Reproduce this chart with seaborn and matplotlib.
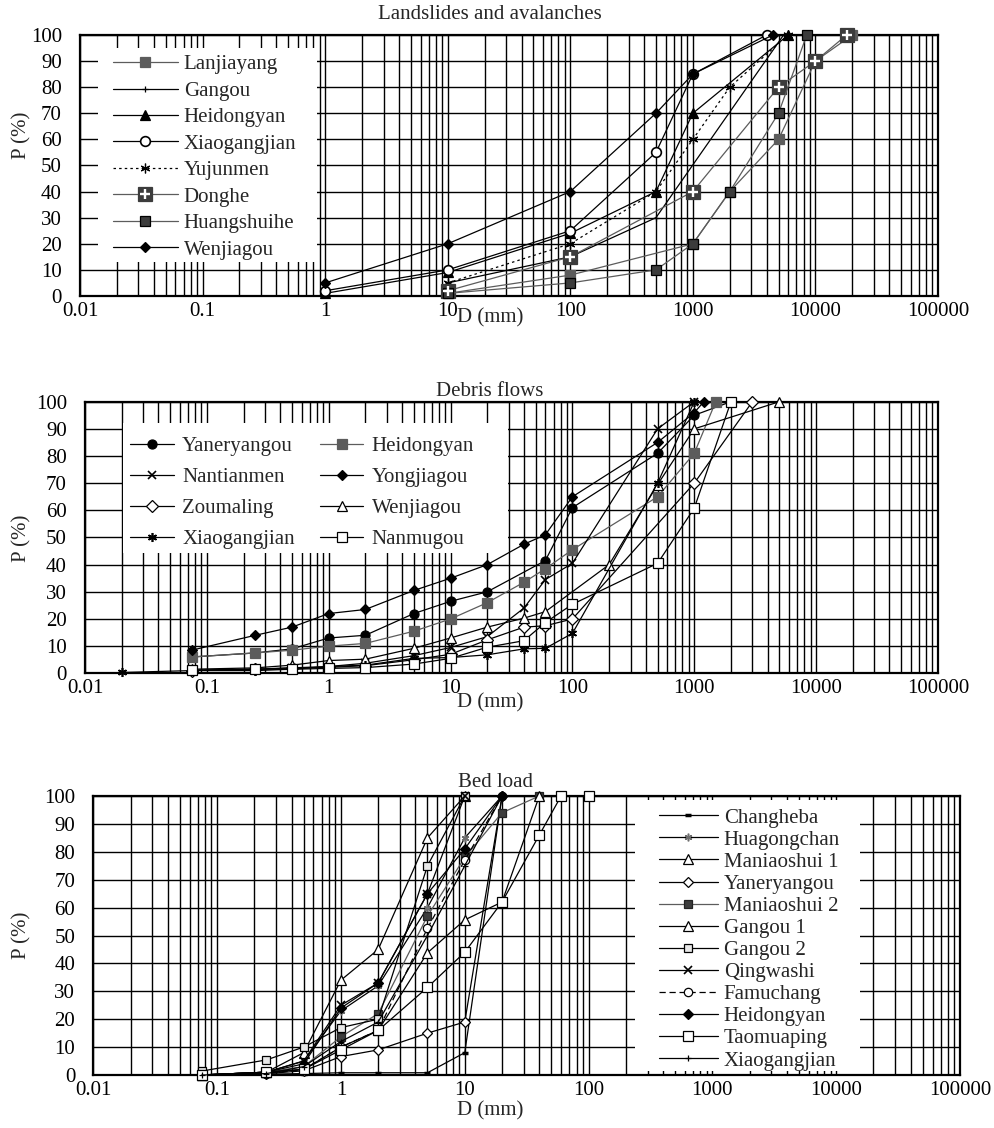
import seaborn as sns
import matplotlib.pyplot as plt
from matplotlib.patches import Rectangle
from matplotlib.ticker import FixedLocator, FixedFormatter, LogLocator, NullFormatter
from matplotlib.legend_handler import HandlerTuple

sns.set_theme(style='ticks')
plt.rcParams['font.family'] = ['Liberation Serif', 'DejaVu Serif']

# axis ticks shared by the three panels
x_ticks = [0.01, 0.1, 1, 10, 100, 1000, 10000, 100000]
x_tick_labels = ['0.01', '0.1', '1', '10', '100', '1000', '10000', '100000']
y_ticks = [0, 10, 20, 30, 40, 50, 60, 70, 80, 90, 100]

# --- Landslides and avalanches (D in mm, P in %)
ls_lanjiayang_d = [10, 100, 1000, 2000, 5000, 10000, 20000]
ls_lanjiayang_p = [1, 8, 20, 40, 60, 90, 100]
ls_gangou_d = [10, 100, 500, 5500]
ls_gangou_p = [5, 15, 30, 100]
ls_heidongyan_d = [1, 10, 100, 500, 1000, 6000]
ls_heidongyan_p = [1, 9, 24, 40, 70, 100]
ls_xiaogangjian_d = [1, 10, 100, 500, 1000, 4000]
ls_xiaogangjian_p = [2, 10, 25, 55, 85, 100]
ls_yujunmen_d = [10, 100, 500, 1000, 2000, 6000]
ls_yujunmen_p = [5, 20, 40, 60, 80, 100]
ls_donghe_d = [10, 100, 1000, 5000, 10000, 18000]
ls_donghe_p = [2, 15, 40, 80, 90, 100]
ls_huangshuihe_d = [10, 100, 500, 1000, 2000, 5000, 8500]
ls_huangshuihe_p = [1, 5, 10, 20, 40, 70, 100]
ls_wenjiagou_d = [1, 10, 100, 500, 1000, 4500]
ls_wenjiagou_p = [5, 20, 40, 70, 85, 100]

# --- Debris flows
df_yaneryangou_d = [0.075, 0.25, 0.5, 1, 2, 5, 10, 20, 60, 100, 500, 1000, 2000]
df_yaneryangou_p = [6, 7.5, 9, 13, 14, 22, 26.5, 30, 41.5, 61, 81, 95, 100]
df_heidongyan_d = [0.075, 0.25, 0.5, 1, 2, 5, 10, 20, 40, 60, 100, 500, 1000, 1500]
df_heidongyan_p = [6, 7.5, 8.5, 10, 11, 15.5, 20, 26, 33.5, 38.5, 45.5, 65, 81, 100]
df_nantianmen_d = [0.075, 0.25, 0.5, 1, 2, 5, 10, 20, 40, 60, 100, 500, 1000]
df_nantianmen_p = [1, 1.5, 2, 2.5, 3.7, 6.5, 9.5, 13.5, 24, 34.5, 40.5, 90, 100]
df_yongjiagou_d = [0.075, 0.25, 0.5, 1, 2, 5, 10, 20, 40, 60, 100, 500, 1000, 1200]
df_yongjiagou_p = [8.5, 14, 17, 22, 23.5, 30.5, 35, 40, 47.5, 51, 65, 85, 96, 100]
df_zoumaling_d = [0.075, 0.25, 0.5, 1, 2, 5, 10, 20, 40, 60, 100, 1000, 3000]
df_zoumaling_p = [1, 1.5, 2, 2.2, 2.8, 5, 7, 12.3, 17, 17.5, 20, 70, 100]
df_wenjiagou_d = [0.075, 0.25, 0.5, 1, 2, 5, 10, 20, 40, 60, 200, 500, 1000, 5000]
df_wenjiagou_p = [1.5, 2, 3, 4.7, 5.2, 9.2, 13, 17, 20.3, 22.7, 40, 69.5, 90, 100]
df_xiaogangjian_d = [0.02, 0.075, 0.25, 0.5, 1, 2, 5, 10, 20, 40, 60, 100, 500, 1000]
df_xiaogangjian_p = [0.3, 1, 1, 1.5, 2.5, 3, 5.5, 5.8, 6.8, 9, 9.2, 14.7, 70, 100]
df_nanmugou_d = [0.075, 0.25, 0.5, 1, 2, 5, 10, 20, 40, 60, 100, 500, 1000, 2000]
df_nanmugou_p = [1.2, 1.5, 1.5, 1.8, 2.1, 3.4, 5.5, 9.6, 12, 18.7, 25.4, 40.5, 60.8, 100]

# --- Bed load
bl_changheba_d = [0.075, 0.25, 0.5, 1, 2, 5, 10, 20]
bl_changheba_p = [0, 0.3, 0.5, 0.8, 0.8, 0.8, 8, 100]
bl_huagongchan_d = [0.075, 0.25, 0.5, 1, 2, 5, 10, 20]
bl_huagongchan_p = [0, 1, 5, 23, 32, 60, 85, 100]
bl_maniaoshui1_d = [0.075, 0.25, 0.5, 1, 2, 5, 10]
bl_maniaoshui1_p = [0, 1, 8, 34, 45, 85, 100]
bl_yaneryangou_d = [0.075, 0.25, 0.5, 1, 2, 5, 10, 20]
bl_yaneryangou_p = [0, 0.5, 1.5, 6.6, 9, 15, 19, 100]
bl_maniaoshui2_d = [0.075, 0.25, 0.5, 1, 2, 5, 10, 20, 40]
bl_maniaoshui2_p = [0, 1, 3, 13.7, 22, 57, 78, 94, 100]
bl_gangou1_d = [0.075, 0.25, 0.5, 1, 2, 5, 10, 20, 40]
bl_gangou1_p = [0, 1, 2, 10, 16, 43.8, 55.6, 62, 100]
bl_gangou2_d = [0.075, 0.25, 0.5, 1, 2, 5, 10]
bl_gangou2_p = [1.4, 5.4, 10, 17, 20, 75, 100]
bl_qingwashi_d = [0.075, 0.25, 0.5, 1, 2, 5, 10]
bl_qingwashi_p = [0, 1, 5, 25, 33, 65, 100]
bl_famuchang_d = [0.075, 0.25, 0.5, 1, 2, 5, 10, 20]
bl_famuchang_p = [0, 0.5, 2, 10, 16, 52.6, 77, 100]
bl_heidongyan_d = [0.075, 0.25, 0.5, 1, 2, 5, 10, 20]
bl_heidongyan_p = [0, 1, 4, 24, 33, 65, 81, 100]
bl_taomuaping_d = [0.075, 0.25, 0.5, 1, 2, 5, 10, 20, 40, 60, 100]
bl_taomuaping_p = [0, 1, 2, 9, 16, 31.4, 44, 62, 86, 100, 100]
bl_xiaogangjian_d = [0.075, 0.25, 0.5, 1, 2, 5, 10, 20]
bl_xiaogangjian_p = [0, 0.5, 3, 12, 19, 50, 75, 100]

FS = 15
BLACK = 'black'
GRAY = '#5c5c5c'
DARK = '#3c3c3c'
ASTER = (6, 2, 0)


def setup(ax):
    ax.set_xscale('log')
    ax.set_xlim(0.01, 100000)
    ax.set_ylim(0, 100)
    ax.xaxis.set_major_locator(FixedLocator(x_ticks))
    ax.xaxis.set_major_formatter(FixedFormatter(x_tick_labels))
    ax.xaxis.set_minor_locator(LogLocator(base=10, subs=range(2, 10), numticks=30))
    ax.xaxis.set_minor_formatter(NullFormatter())
    ax.set_yticks(y_ticks)
    ax.set_axisbelow(True)
    ax.grid(True, which='both', axis='x', color='black', lw=1.0)
    ax.grid(True, which='major', axis='y', color='black', lw=1.0)
    ax.tick_params(which='both', length=0, labelsize=FS, colors='black')
    ax.tick_params(axis='x', pad=4)
    ax.tick_params(axis='y', pad=13)
    for s in ax.spines.values():
        s.set_color('black')
        s.set_linewidth(1.6)


def draw(ax, d, p, label, marker, mfc, mec='black', ms=6, color=BLACK, ls='-', mew=0.9):
    sns.lineplot(x=d, y=p, ax=ax, color=color, marker=marker, markersize=ms,
                 markerfacecolor=mfc, markeredgecolor=mec, markeredgewidth=mew,
                 linestyle=ls, lw=0.9, label=label, estimator=None, sort=False,
                 clip_on=False, zorder=3)
    return ax.lines[-1]


def blank_box(ax, x0, y0, w, h):
    ax.add_patch(Rectangle((x0, y0), w, h, transform=ax.transAxes,
                           facecolor='white', edgecolor='none', zorder=1))


fig = plt.figure(figsize=(9.95, 11.28), dpi=100)
ax1 = fig.add_axes([0.0804, 0.7376, 0.8623, 0.2314])
ax2 = fig.add_axes([0.0854, 0.4031, 0.8573, 0.2408])
ax3 = fig.add_axes([0.0938, 0.0470, 0.8710, 0.2473])

# ---------------- Landslides and avalanches
setup(ax1)
blank_box(ax1, 0.021, 0.130, 0.255, 0.820)
h = []
h.append(draw(ax1, ls_lanjiayang_d, ls_lanjiayang_p, 'Lanjiayang', 's', GRAY, GRAY, 6.5, color=GRAY))
h.append(draw(ax1, ls_gangou_d, ls_gangou_p, 'Gangou', '+', BLACK, BLACK, 5))
h.append(draw(ax1, ls_heidongyan_d, ls_heidongyan_p, 'Heidongyan', '^', BLACK, BLACK, 7))
h.append(draw(ax1, ls_xiaogangjian_d, ls_xiaogangjian_p, 'Xiaogangjian', 'o', 'white', BLACK, 7, mew=1.2))
h.append(draw(ax1, ls_yujunmen_d, ls_yujunmen_p, 'Yujunmen', ASTER, BLACK, BLACK, 7, ls=(0, (2, 2.5))))
sq = draw(ax1, ls_donghe_d, ls_donghe_p, 'Donghe', 's', DARK, DARK, 9.5, color=GRAY)
plus = ax1.plot(ls_donghe_d, ls_donghe_p, ls='none', marker='+', ms=6.5, mew=1.7,
                color='white', clip_on=False, zorder=4)[0]
h.append((sq, plus))
h.append(draw(ax1, ls_huangshuihe_d, ls_huangshuihe_p, 'Huangshuihe', 's', DARK, BLACK, 6.5, color=GRAY))
h.append(draw(ax1, ls_wenjiagou_d, ls_wenjiagou_p, 'Wenjiagou', 'D', BLACK, BLACK, 5.5))
labels1 = ['Lanjiayang', 'Gangou', 'Heidongyan', 'Xiaogangjian', 'Yujunmen',
           'Donghe', 'Huangshuihe', 'Wenjiagou']
leg = ax1.legend(h, labels1, loc='upper left', bbox_to_anchor=(0.0385, 0.924),
                 frameon=False, fontsize=FS, handlelength=3.1, handletextpad=0.3,
                 labelspacing=0.33, borderpad=0, borderaxespad=0,
                 handler_map={tuple: HandlerTuple(ndivide=1)})
leg.set_zorder(5)
ax1.set_xlabel('D (mm)', fontsize=FS)
ax1.xaxis.set_label_coords(0.478, -0.084)
ax1.xaxis.label.set_va('center')
ax1.set_ylabel('P (%)', fontsize=FS)
ax1.yaxis.set_label_coords(-0.068, 0.617)
ax1.yaxis.label.set_va('center')
ax1.text(0.478, 1.077, 'Landslides and avalanches', transform=ax1.transAxes,
         ha='center', va='center', fontsize=FS)

# ---------------- Debris flows
setup(ax2)
blank_box(ax2, 0.0445, 0.443, 0.451, 0.479)
g = {}
g['Yaneryangou'] = draw(ax2, df_yaneryangou_d, df_yaneryangou_p, 'Yaneryangou', 'o', BLACK, BLACK, 6.5)
g['Heidongyan'] = draw(ax2, df_heidongyan_d, df_heidongyan_p, 'Heidongyan', 's', GRAY, GRAY, 6.5, color=GRAY)
g['Nantianmen'] = draw(ax2, df_nantianmen_d, df_nantianmen_p, 'Nantianmen', 'x', BLACK, BLACK, 6, mew=1.2)
g['Yongjiagou'] = draw(ax2, df_yongjiagou_d, df_yongjiagou_p, 'Yongjiagou', 'D', BLACK, BLACK, 5.5)
g['Zoumaling'] = draw(ax2, df_zoumaling_d, df_zoumaling_p, 'Zoumaling', 'D', 'white', BLACK, 6)
g['Wenjiagou'] = draw(ax2, df_wenjiagou_d, df_wenjiagou_p, 'Wenjiagou', '^', 'white', BLACK, 7)
g['Xiaogangjian'] = draw(ax2, df_xiaogangjian_d, df_xiaogangjian_p, 'Xiaogangjian', ASTER, BLACK, BLACK, 6.5, mew=1.2)
g['Nanmugou'] = draw(ax2, df_nanmugou_d, df_nanmugou_p, 'Nanmugou', 's', 'white', BLACK, 6.5)
order2 = ['Yaneryangou', 'Nantianmen', 'Zoumaling', 'Xiaogangjian',
          'Heidongyan', 'Yongjiagou', 'Wenjiagou', 'Nanmugou']
leg = ax2.legend([g[k] for k in order2], order2, ncol=2, loc='upper left',
                 bbox_to_anchor=(0.0528, 0.872), frameon=False, fontsize=FS,
                 handlelength=2.1, handletextpad=0.4, columnspacing=1.2,
                 labelspacing=0.55, borderpad=0, borderaxespad=0)
leg.set_zorder(5)
ax2.set_xlabel('D (mm)', fontsize=FS)
ax2.xaxis.set_label_coords(0.475, -0.109)
ax2.xaxis.label.set_va('center')
ax2.set_ylabel('P (%)', fontsize=FS)
ax2.yaxis.set_label_coords(-0.074, 0.498)
ax2.yaxis.label.set_va('center')
ax2.text(0.475, 1.036, 'Debris flows', transform=ax2.transAxes,
         ha='center', va='center', fontsize=FS)

# ---------------- Bed load
setup(ax3)
blank_box(ax3, 0.625, 0.014, 0.2596, 0.972)
b = []
b.append(draw(ax3, bl_changheba_d, bl_changheba_p, 'Changheba', '_', BLACK, BLACK, 5, mew=2.5))
b.append(draw(ax3, bl_huagongchan_d, bl_huagongchan_p, 'Huagongchan', ASTER, '#6e6e6e', '#6e6e6e', 5.5, mew=1.1))
b.append(draw(ax3, bl_maniaoshui1_d, bl_maniaoshui1_p, 'Maniaoshui 1', '^', 'white', BLACK, 6.5))
b.append(draw(ax3, bl_yaneryangou_d, bl_yaneryangou_p, 'Yaneryangou', 'D', 'white', BLACK, 5))
b.append(draw(ax3, bl_maniaoshui2_d, bl_maniaoshui2_p, 'Maniaoshui 2', 's', DARK, '#222222', 6, color=GRAY))
b.append(draw(ax3, bl_gangou1_d, bl_gangou1_p, 'Gangou 1', '^', 'white', BLACK, 6.5))
b.append(draw(ax3, bl_gangou2_d, bl_gangou2_p, 'Gangou 2', 's', '#e8e8e8', BLACK, 6))
b.append(draw(ax3, bl_qingwashi_d, bl_qingwashi_p, 'Qingwashi', 'x', BLACK, BLACK, 5.5, mew=1.2))
b.append(draw(ax3, bl_famuchang_d, bl_famuchang_p, 'Famuchang', 'o', 'white', BLACK, 6, ls=(0, (5, 3))))
b.append(draw(ax3, bl_heidongyan_d, bl_heidongyan_p, 'Heidongyan', 'D', BLACK, BLACK, 5.5))
b.append(draw(ax3, bl_taomuaping_d, bl_taomuaping_p, 'Taomuaping', 's', 'white', BLACK, 6.5))
b.append(draw(ax3, bl_xiaogangjian_d, bl_xiaogangjian_p, 'Xiaogangjian', '+', BLACK, BLACK, 5))
leg = ax3.legend(b, [l.get_label() for l in b], loc='upper left',
                 bbox_to_anchor=(0.653, 0.957), frameon=False, fontsize=FS,
                 handlelength=2.8, handletextpad=0.3, labelspacing=0.12,
                 borderpad=0, borderaxespad=0)
leg.set_zorder(5)
ax3.set_xlabel('D (mm)', fontsize=FS)
ax3.xaxis.set_label_coords(0.458, -0.129)
ax3.xaxis.label.set_va('center')
ax3.set_ylabel('P (%)', fontsize=FS)
ax3.yaxis.set_label_coords(-0.082, 0.50)
ax3.yaxis.label.set_va('center')
ax3.text(0.464, 1.050, 'Bed load', transform=ax3.transAxes,
         ha='center', va='center', fontsize=FS)

fig.savefig('out.png', dpi=100, facecolor='white')
